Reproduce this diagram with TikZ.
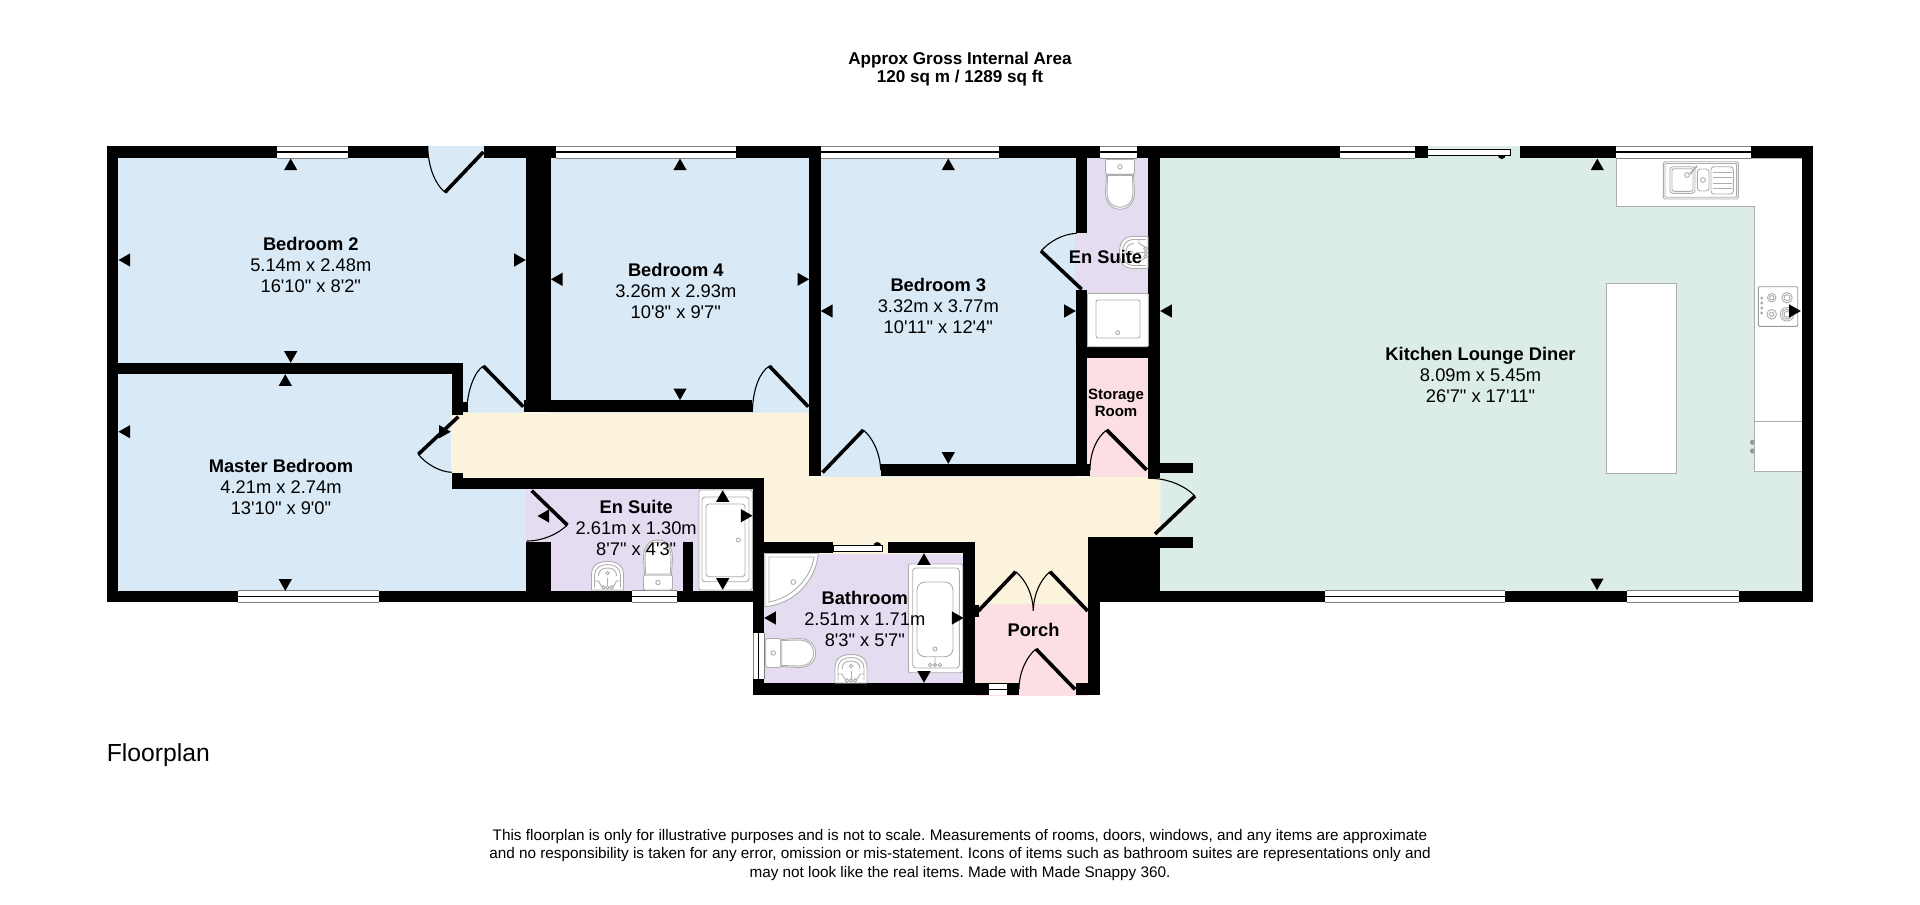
\documentclass[tikz,border=0pt]{standalone}
\usepackage{fontspec}
\newfontfamily\lib{Liberation Sans}
\definecolor{bluefill}{HTML}{D9E9F6}
\definecolor{greenfill}{HTML}{DCECE8}
\definecolor{hallfill}{HTML}{FCF3DC}
\definecolor{purplefill}{HTML}{E6DCF2}
\definecolor{pinkfill}{HTML}{FBDFE3}
\definecolor{fix}{HTML}{ADADAD}
\tikzset{
  leaf/.style={line width=3.6pt,black,line cap=butt},
  swing/.style={line width=1.1pt,black},
  fixture/.style={draw=fix,line width=0.9pt,fill=white},
  fixline/.style={draw=fix,line width=0.9pt},
  roomtext/.style={font=\lib\fontsize{18.3}{21}\selectfont,align=center,inner sep=0pt,text=black},
  smalltext/.style={font=\lib\fontsize{15}{17.3}\selectfont\bfseries,align=center,inner sep=0pt,text=black},
  titletext/.style={font=\lib\fontsize{17.1}{18.6}\selectfont\bfseries,align=center,inner sep=0pt,text=black},
  foottext/.style={font=\lib\fontsize{15.3}{18.5}\selectfont\frenchspacing,align=center,inner sep=0pt,text=black},
  plantext/.style={font=\lib\fontsize{24.7}{28}\selectfont,inner sep=0pt,text=black},
}
\newcommand\wall[4]{\fill[black] (#1,#2) rectangle (#3,#4);}
\newcommand\winH[3]{\fill[white] (#1,#2) rectangle (#3,#2+12.3);
  \draw[gray,line width=0.7pt] (#1,#2) -- (#3,#2) (#1,#2+12.3) -- (#3,#2+12.3);
  \draw[black,line width=1.4pt] (#1,#2+6.1) -- (#3,#2+6.1);}
\newcommand\door[5]{\draw[leaf] (#1) -- (#2); \draw[swing] (#2) .. controls (#3) and (#4) .. (#5);}
\newcommand\triU[2]{\fill[black] (#1,#2-5.8) -- (#1+6.6,#2+5.8) -- (#1-6.6,#2+5.8) -- cycle;}
\newcommand\triD[2]{\fill[black] (#1,#2+5.8) -- (#1+6.6,#2-5.8) -- (#1-6.6,#2-5.8) -- cycle;}
\newcommand\triL[2]{\fill[black] (#1-5.8,#2) -- (#1+5.8,#2-6.6) -- (#1+5.8,#2+6.6) -- cycle;}
\newcommand\triR[2]{\fill[black] (#1+5.8,#2) -- (#1-5.8,#2-6.6) -- (#1-5.8,#2+6.6) -- cycle;}
\newcommand\basin[3]{\begin{scope}[shift={(#1,#2)},rotate=#3]
  \draw[fixture] (-16,0) -- (-16,-15) .. controls (-16,-25) and (-9,-28.5) .. (0,-28.5) .. controls (9,-28.5) and (16,-25) .. (16,-15) -- (16,0) -- cycle;
  \draw[fixline] (-13,-2.5) -- (-13,-15) .. controls (-13,-22) and (-7,-25.5) .. (0,-25.5) .. controls (7,-25.5) and (13,-22) .. (13,-15) -- (13,-2.5);
  \draw[fixline] (-13,-9) -- (-9,-9) .. controls (-8,-6) and (-6,-4) .. (-5,-3);
  \draw[fixline] (13,-9) -- (9,-9) .. controls (8,-6) and (6,-4) .. (5,-3);
  \draw[fixline] (-9,-14) .. controls (-9,-20) and (-5,-22) .. (0,-22) .. controls (5,-22) and (9,-20) .. (9,-14);
  \draw[fixline] (0,-17) circle (1.8);
  \draw[fixline] (0,-12) -- (0,-4);
  \draw[fixline] (-4,-2.5) circle (1.7) (0,-2.5) circle (1.7) (4,-2.5) circle (1.7);
\end{scope}}
\newcommand\loo[3]{\begin{scope}[shift={(#1,#2)},rotate=#3]
  \draw[fixture,rounded corners=2pt] (-14.5,0) rectangle (14.5,-15);
  \draw[fixture] (-13.5,-15) -- (-14.5,-33) .. controls (-14.5,-44) and (-8,-50) .. (0,-50) .. controls (8,-50) and (14.5,-44) .. (14.5,-33) -- (13.5,-15) -- cycle;
  \draw[fixture] (-12.5,-16) -- (-13,-33) .. controls (-13,-43) and (-7,-48) .. (0,-48) .. controls (7,-48) and (13,-43) .. (13,-33) -- (12.5,-16) -- cycle;
  \draw[fixline] (0,-7.5) circle (2.2);
\end{scope}}
\begin{document}
\begin{tikzpicture}[x=1pt,y=-1pt]
\useasboundingbox (0,0) rectangle (1920,905);
% room fills
\fill[bluefill] (118,158) rectangle (526,590.7);
\fill[bluefill] (427.7,146) rectangle (484.3,159);
\fill[bluefill] (550,158) rectangle (809.5,413);
\fill[bluefill] (821,158) rectangle (1076,476.5);
\fill[greenfill] (1160,158) rectangle (1802,590.7);
\fill[greenfill] (1427,146) rectangle (1521,159);
\fill[purplefill] (525.7,489) rectangle (752.7,590.7);
\fill[purplefill] (1075,158) rectangle (1148.5,347);
\fill[purplefill] (764,553) rectangle (963.5,683);
\fill[pinkfill] (1087,358) rectangle (1148.5,477);
\fill[pinkfill] (975,604) rectangle (1088.5,695.7);
\fill[hallfill] (451,412.6) -- (809.5,412.6) -- (809.5,476.8) -- (1160.5,476.8) -- (1160.5,537) -- (1088.5,537) -- (1088.5,604) -- (975,604) -- (975,554) -- (764,554) -- (764,478.5) -- (451,478.5) -- cycle;
% kitchen units
\draw[fill=white,draw=fix,line width=0.9pt] (1616.3,158) -- (1616.3,206) -- (1754.3,206) -- (1754.3,471) -- (1802,471) -- (1802,158) -- cycle;
\draw[fill=white,draw=fix,line width=0.9pt] (1606.7,283.3) rectangle (1676,473.3);
\draw[fix,line width=0.9pt] (1754.3,421.7) -- (1802,421.7);
\fill[gray!80] (1752.5,442.3) circle (2.6) (1752.5,451) circle (2.6);
\fill[white] (1754.4,436) rectangle (1758,458);
\draw[fix,line width=0.9pt] (1754.3,421.7) -- (1754.3,471);
% walls: outer
\wall{106.7}{146}{427.7}{158.3}
\wall{484.3}{146}{1340}{158.3}
\wall{1414.7}{146}{1427.7}{158.3}
\wall{1520}{146}{1813.3}{158.3}
\wall{106.7}{146}{118.3}{602.3}
\wall{1801.7}{146}{1813.3}{602.3}
\wall{106.7}{590.7}{764.3}{602.3}
\wall{1088.3}{590.7}{1813.3}{602.3}
% walls: inner
\wall{118}{363.3}{463.3}{374.3}
\wall{452.3}{363.3}{463.3}{415}
\wall{463}{402}{467.5}{412}
\wall{525.7}{146}{550.7}{412.3}
\wall{524}{400.4}{752.3}{412.3}
\wall{809.3}{146}{821}{476}
\wall{881}{464}{1090}{476.4}
\wall{1075.7}{146}{1087.3}{233.3}
\wall{1075.7}{290}{1087.3}{476.4}
\wall{1148.3}{146}{1160}{478}
\wall{1087}{346.7}{1148.5}{358.3}
\wall{1160}{463.3}{1193.3}{472.7}
\wall{1160}{537.3}{1193.3}{548.3}
\wall{1088.3}{536.7}{1160}{602.3}
\wall{1088.3}{600}{1100.3}{695}
\wall{975}{683.3}{1019}{695}
\wall{1075.7}{683.3}{1100.3}{695}
\wall{452.3}{478.3}{764.3}{489.3}
\wall{452.3}{472.7}{463.3}{489.3}
\wall{525.7}{541.7}{550.7}{602}
\wall{683.3}{541.7}{693.3}{591}
\wall{752.7}{478.3}{764.3}{695}
\wall{752.7}{541.7}{833.3}{553.3}
\wall{887.7}{541.7}{975.3}{553.3}
\wall{963.3}{541.7}{975.3}{695}
\wall{975}{605}{978.5}{617}
\wall{752.7}{682.7}{975.3}{695}
% windows
\winH{277}{146}{347.7}
\winH{555.7}{146}{736}
\winH{821}{146}{999.3}
\winH{1100}{146}{1137}
\winH{1340}{146}{1414.7}
\winH{1616.3}{146}{1750.7}
\winH{237.7}{590.3}{378.7}
\winH{631.7}{590.3}{676.7}
\winH{1325}{590.3}{1505}
\winH{1627.3}{590.3}{1739.3}
% small window in porch wall
\fill[white] (989,684) rectangle (1006.7,694.5);
\draw[black,line width=1.4pt] (989,689.2) -- (1006.7,689.2);
% vertical window in bathroom wall
\fill[white] (753,633.3) rectangle (764.3,679);
\draw[gray,line width=0.7pt] (753,633.3) -- (753,679) (764.3,633.3) -- (764.3,679);
\draw[black,line width=1.4pt] (758.6,633.3) -- (758.6,679);
% sliding doors
\fill[black] (877.3,546) circle (4);
\draw[fill=white,draw=black,line width=0.8pt] (833.3,545) rectangle (882.7,551);
\fill[black] (1501.7,155) circle (4);
\draw[fill=white,draw=black,line width=0.8pt] (1427.7,149) rectangle (1510.7,155);
% en suite bath
\draw[fixture,rounded corners=2pt] (699,490) rectangle (752.3,590);
\draw[fixline,rounded corners=3pt] (702,497) rectangle (749,581.7);
\draw[fixline,rounded corners=3pt] (706,504) rectangle (745,576.7);
\draw[fixline] (738.3,540) circle (2);
% bathroom bath
\draw[fixture,rounded corners=2pt] (908.3,564) rectangle (962.7,672.7);
\draw[fixline,rounded corners=3pt] (912.7,568) rectangle (959.3,668);
\draw[fixline,rounded corners=8pt] (917,582) rectangle (953,656.7);
\draw[fixline] (935,649) circle (2);
\draw[fixline] (935,657) -- (935,665) (930,665) circle (1.7) (935,665) circle (1.7) (940,665) circle (1.7);
% corner shower
\draw[fixture] (765,553.5) -- (818.3,553.5) .. controls (816,580) and (795,604) .. (765,606.7) -- cycle;
\draw[fixline] (769,557) -- (814,557) .. controls (811,578) and (792,598) .. (769,602) -- cycle;
\draw[fixline] (793.3,582) circle (2.4);
% en suite shower
\draw[fixture,rounded corners=1pt] (1087.5,293.3) rectangle (1148.3,346.7);
\draw[fixline,rounded corners=2pt] (1096,300) rectangle (1140,338);
\draw[fixline] (1117.7,332.7) circle (2);
% sanitary
\loo{1120}{159.3}{180}
\loo{658}{590}{0}
\loo{765.7}{653}{-90}
\basin{607.5}{590}{0}
\basin{851}{683}{0}
\basin{1148}{252.5}{90}
% kitchen sink
\draw[fixture,rounded corners=1.5pt] (1663.3,161.7) rectangle (1738.3,199);
\draw[fixline,rounded corners=1pt] (1665,163.5) rectangle (1736.6,197.2);
\draw[fixline,rounded corners=3pt] (1670,166.7) rectangle (1695,193.3);
\draw[fixline,rounded corners=2pt] (1672,168.7) rectangle (1693,191.3);
\draw[fixline,rounded corners=3pt] (1697.3,169) rectangle (1709,191);
\draw[fixline,rounded corners=3pt] (1711,166.7) rectangle (1733.3,194);
\draw[fixline] (1713,172) -- (1731.5,172) (1713,177.5) -- (1731.5,177.5) (1713,183) -- (1731.5,183) (1713,188.5) -- (1731.5,188.5);
\draw[fixline] (1687,175) circle (2.4) (1703,180) circle (2.4);
\draw[fix,line width=1.6pt] (1690,174) -- (1697,166);
% hob
\draw[draw=gray!80,fill=white,line width=0.9pt,rounded corners=1pt] (1758.3,286.7) rectangle (1797.7,326.3);
\draw[fixline] (1771.7,297.7) circle (2.2) (1771.7,297.7) circle (4.2);
\draw[fixline] (1787,297.7) circle (3) (1787,297.7) circle (5.2);
\draw[fixline] (1771.7,314.3) circle (2.2) (1771.7,314.3) circle (4.8);
\draw[fixline] (1787,314.3) circle (3) (1787,314.3) circle (5) (1787,314.3) circle (6.8);
\draw[fixline] (1761.7,298) circle (1) (1761.7,303) circle (1) (1761.7,308) circle (1) (1761.7,313) circle (1);
% doors
\door{483.3,152}{445,192.3}{434,183}{428,165}{427.7,146}
\door{523.3,406.7}{483.3,366}{474,372}{467,392}{466.7,412}
\door{458.3,416.7}{418.3,454.3}{426,464}{440,472}{451.7,472.3}
\door{531.7,490.7}{567.3,525}{558,534}{543,541}{526.7,541}
\door{808.3,406.7}{769.3,366}{760,372}{753,388}{752.3,412}
\door{822.5,472.5}{863.3,430}{872,437}{880,452}{880.7,470}
\door{1081.7,289.3}{1041,251}{1050,241}{1063,234}{1076.7,233.3}
\door{1146.7,470}{1106.7,430}{1097,437}{1090,452}{1090,470}
\door{1155,534}{1195,496}{1185,486}{1168,478}{1148.3,478.3}
\door{978.3,611}{1015.7,571.7}{1026,580}{1033,595}{1033.3,610.7}
\door{1087.7,611}{1050,571.7}{1040,580}{1033.5,595}{1033.3,610.7}
\door{1075,689.3}{1036,649}{1027,656}{1019,672}{1019,689}
% dimension markers
\triU{290.7}{164.3} \triL{124.3}{260} \triR{520}{260} \triD{290.7}{357}
\triU{285.3}{380} \triL{124.3}{431.7} \triD{285.3}{585} \triR{445}{431.7}
\triU{680}{164.3} \triL{556.7}{279.3} \triR{803.3}{279.3} \triD{680}{394.3}
\triU{948.3}{164.3} \triL{826.7}{311} \triR{1070}{311} \triD{948.3}{458}
\triL{543.3}{516} \triU{722.7}{496} \triR{746.7}{515.7} \triD{722.7}{584}
\triU{924}{559} \triD{924}{677} \triL{770}{618} \triR{957.7}{618}
\triU{1597.3}{164.3} \triD{1597}{584.3} \triL{1166}{311} \triR{1795}{311}
% texts
\node[titletext] (title) at (960,69) {Approx Gross Internal Area\\120 sq m / 1289 sq ft};
\node[roomtext] (bed2) at (310.8,265) {\textbf{Bedroom 2}\\5.14m x 2.48m\\16'10" x 8'2"};
\node[roomtext] (master) at (281,486.5) {\textbf{Master Bedroom}\\4.21m x 2.74m\\13'10" x 9'0"};
\node[roomtext] (bed4) at (675.8,291.3) {\textbf{Bedroom 4}\\3.26m x 2.93m\\10'8" x 9'7"};
\node[roomtext] (bed3) at (938.3,305.7) {\textbf{Bedroom 3}\\3.32m x 3.77m\\10'11" x 12'4"};
\node[roomtext] (ensuite1) at (636.2,527.8) {\textbf{En Suite}\\2.61m x 1.30m\\8'7" x 4'3"};
\node[roomtext] (bath) at (864.8,619.3) {\textbf{Bathroom}\\2.51m x 1.71m\\8'3" x 5'7"};
\node[roomtext] (kitchen) at (1480.5,375) {\textbf{Kitchen Lounge Diner}\\8.09m x 5.45m\\26'7" x 17'11"};
\node[roomtext] (ensuite2) at (1105.5,257.3) {\textbf{En Suite}};
\node[roomtext] (porch) at (1033.5,629.5) {\textbf{Porch}};
\node[smalltext] (storage) at (1116,403) {Storage\\Room};
\node[plantext,anchor=west] (plan) at (106.7,755.5) {Floorplan};
\node[foottext] (foot) at (960,855) {This floorplan is only for illustrative purposes and is not to scale. Measurements of rooms, doors, windows, and any items are approximate\\and no responsibility is taken for any error, omission or mis-statement. Icons of items such as bathroom suites are representations only and\\may not look like the real items. Made with Made Snappy 360.};
\end{tikzpicture}
\end{document}
